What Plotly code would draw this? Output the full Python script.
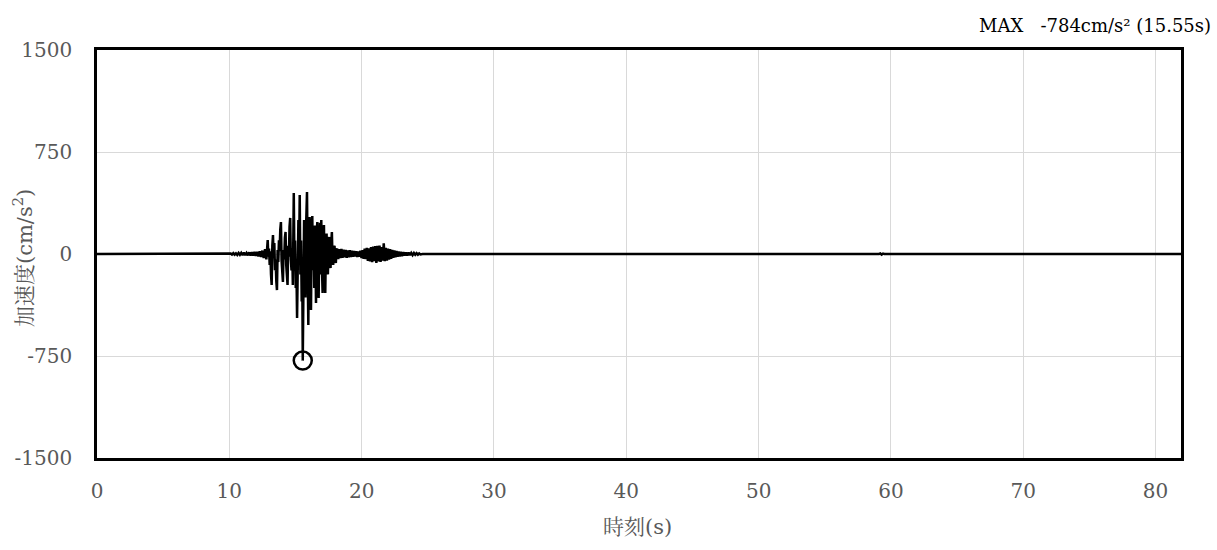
import plotly.graph_objects as go

# Waveform turning points: (time s, acceleration cm/s^2)
time_s = [
    0.0, 10.0, 10.1, 10.2, 10.3, 10.4, 10.5, 10.6, 10.7, 10.8, 10.9, 11.0, 11.1, 11.2, 11.3,
    11.4, 11.5, 11.6, 11.7, 11.8, 11.9, 12.0, 12.1, 12.2, 12.3, 12.4, 12.5, 12.6, 12.7, 12.8,
    12.90, 12.95, 13.00, 13.05, 13.10, 13.15, 13.20, 13.25, 13.30, 13.35, 13.40, 13.45, 13.50,
    13.55, 13.60, 13.65, 13.70, 13.75, 13.80, 13.85, 13.90, 13.95, 14.00, 14.05, 14.10, 14.15,
    14.20, 14.25, 14.30, 14.35, 14.40, 14.45, 14.50, 14.55, 14.60, 14.65, 14.70, 14.75, 14.80,
    14.84, 14.87, 14.92, 14.97, 15.02, 15.07, 15.12, 15.17, 15.22, 15.27, 15.32, 15.37, 15.42,
    15.47, 15.51, 15.55, 15.60, 15.65, 15.70, 15.75, 15.80, 15.87, 15.92, 15.97, 16.02, 16.07,
    16.12, 16.17, 16.22, 16.27, 16.32, 16.37, 16.42, 16.47, 16.52, 16.55, 16.60, 16.65, 16.70,
    16.75, 16.80, 16.85, 16.90, 16.95, 17.00, 17.05, 17.10, 17.15, 17.20, 17.25, 17.30, 17.35,
    17.40, 17.45, 17.50, 17.55, 17.60, 17.65, 17.70, 17.75, 17.80, 17.85, 17.90, 17.95, 18.00,
    18.05, 18.10, 18.15,
    18.23, 18.31, 18.39, 18.47, 18.55, 18.63, 18.71, 18.79, 18.87, 18.95, 19.03, 19.11, 19.19,
    19.27, 19.35, 19.43, 19.51, 19.59, 19.67, 19.75, 19.83, 19.91, 19.99, 20.07, 20.15, 20.23,
    20.31, 20.39, 20.47, 20.55, 20.63, 20.71, 20.79, 20.87, 20.95, 21.03, 21.11, 21.19, 21.27,
    21.35, 21.43, 21.51, 21.59, 21.67, 21.75, 21.83, 21.91, 21.99, 22.07, 22.15, 22.23, 22.31,
    22.39, 22.47, 22.55, 22.63, 22.71, 22.79, 22.87, 22.95, 23.05, 23.15, 23.25, 23.35, 23.45,
    23.55, 23.65, 23.75, 23.85, 23.95, 24.05, 24.15, 24.25, 24.35, 24.45, 24.6,
    59.1, 59.2, 59.3, 59.4, 59.5, 81.92,
]
accel = [
    0, 0, 4, -4, 6, -5, 5, -7, 8, -6, 9, -8, 10, -9, 7,
    -10, 12, -11, 14, -12, 15, -14, 16, -18, 20, -22, 25, -30, 35, -40,
    103, -20, 40, -80, 20, -150, -228, 60, 140, -30, 80, -120, -40,
    -200, -265, 30, -60, 100, 20, 180, 235, -50, -130, -206, 30, -40,
    120, 162, -80, -160, -228, 60, -20, 200, 265, -40, -120, 40, -228,
    150, 448, -60, 100, -250, -100, -470, 60, 250, -50, 434, -150, 100,
    -350, -100, -784, 150, 250, -200, -320, 200, 456, -100, -522, 150, 272,
    -200, -412, 100, 279, -120, 180, -250, 210, -100, -360, 150, 235, -200,
    -323, 80, 230, -150, 250, -100, -287, 120, 213, -150, -287, 60, 150,
    -80, -150, 90, 125, -60, -103, 80, 162, -50, -80, 50, 60, -40,
    -66, 30, 40,
    -38, 35, -30, 38, -28, 32, -25, 30, -28, 26, -24, 28, -22,
    24, -20, 22, -18, 20, -22, 18, -20, 25, -30, 28, -35, 40,
    -38, 45, -50, 42, -55, 50, -60, 55, -52, 58, -66, 60, -55,
    62, -58, 50, -48, 78, -52, 45, -48, 40, -42, 35, -36, 30,
    -28, 26, -24, 22, -20, 18, -18, 16, -15, 14, -12, 12, -11,
    10, -9, 8, -8, 7, -6, 6, -5, 4, -3, 0,
    0, 4, -5, 3, 0, 0,
]

peak_time = [15.55]
peak_value = [-784]

x_ticks = [0, 10, 20, 30, 40, 50, 60, 70, 80]
y_ticks = [-1500, -750, 0, 750, 1500]
y_tick_text = ["-1500", "-750", "0", "750", "1500"]

x_title = "時刻(s)"
y_title = "加速度(cm/s<sup>2</sup>)"
max_label = "MAX&nbsp;&nbsp;&nbsp;-784cm/s² (15.55s)"

FONT = "DejaVu Serif, Noto Serif CJK JP, Noto Sans CJK JP, serif"
GRAY = "#595959"

fig = go.Figure()
fig.add_trace(go.Scatter(
    x=time_s, y=accel, mode="lines",
    line=dict(color="black", width=2.5),
    hoverinfo="skip", showlegend=False,
))
fig.add_trace(go.Scatter(
    x=peak_time, y=peak_value, mode="markers",
    marker=dict(symbol="circle-open", size=18, color="black", line=dict(color="black", width=2.5)),
    showlegend=False,
))

fig.update_layout(
    width=1217, height=550,
    margin=dict(l=97, r=36, t=50, b=92, autoexpand=False),
    plot_bgcolor="white", paper_bgcolor="white",
    font=dict(family=FONT, size=20, color=GRAY),
)
fig.update_xaxes(
    range=[0, 81.92], tickvals=x_ticks, ticktext=[str(v) for v in x_ticks],
    showgrid=True, gridcolor="#d9d9d9", gridwidth=1,
    showline=True, linecolor="black", linewidth=2.5, mirror=True,
    zeroline=False, ticks="", ticklabelstandoff=13,
    tickfont=dict(family=FONT, size=20, color=GRAY),
)
fig.update_yaxes(
    range=[-1500, 1500], tickvals=y_ticks, ticktext=y_tick_text,
    showgrid=True, gridcolor="#d9d9d9", gridwidth=1,
    showline=True, linecolor="black", linewidth=2.5, mirror=True,
    zeroline=False, ticks="", ticklabelstandoff=18,
    tickfont=dict(family=FONT, size=20, color=GRAY),
)

fig.add_annotation(
    text=y_title, xref="paper", yref="paper", x=-0.0683, y=0.49,
    xanchor="center", yanchor="middle", textangle=-90, showarrow=False,
    font=dict(family=FONT, size=21, color=GRAY),
)
fig.add_annotation(
    text=x_title, xref="paper", yref="paper", x=0.499, y=-0.169,
    xanchor="center", yanchor="middle", showarrow=False,
    font=dict(family=FONT, size=21, color=GRAY),
)
fig.add_annotation(
    text=max_label, xref="paper", yref="paper", x=1.0295, y=1.061,
    xanchor="right", yanchor="middle", showarrow=False,
    font=dict(family=FONT, size=18, color="black"),
)

fig.write_html(
    "out.html",
    config={"displayModeBar": False},
    post_script="document.body.style.margin='0';document.body.style.overflow='hidden';",
)
